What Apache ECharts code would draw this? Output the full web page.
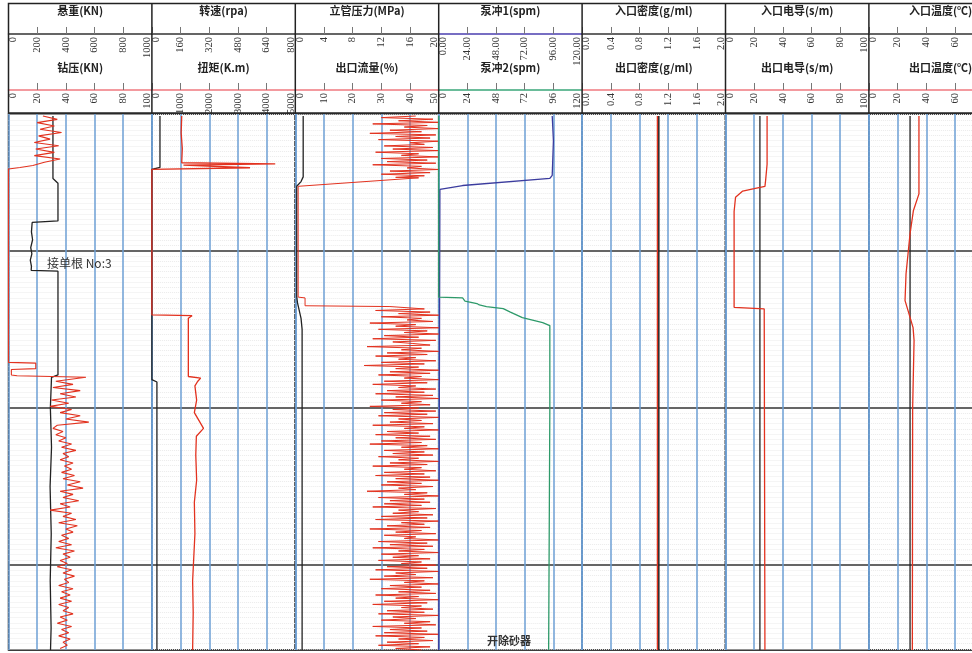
<!DOCTYPE html>
<html>
<head>
<meta charset="utf-8">
<script src="https://cdn.jsdelivr.net/npm/echarts@6/dist/echarts.min.js"></script>
<style>
html,body{margin:0;padding:0;background:#fff;overflow:hidden;}
#log{width:1020px;height:653px;}
</style>
</head>
<body>
<div id="log"></div>
<script>
// track headers (upper curve / lower curve)
var upNames=['悬重(KN)','转速(rpa)','立管压力(MPa)','泵冲1(spm)','入口密度(g/ml)','入口电导(s/m)','入口温度(℃)'];
var upMax=[1000,800,20,120,2,100,100];
var upDec=[0,0,0,2,1,0,0];
var loNames=['钻压(KN)','扭矩(K.m)','出口流量(%)','泵冲2(spm)','出口密度(g/ml)','出口电导(s/m)','出口温度(℃)'];
var loMax=[100,5000,50,120,2,100,100];
var loDec=[0,0,0,0,1,0,0];

// time range of the plot (min), black lines every 10 min
var tMin=1.3, tMax=35.4;

// track 1
var hookload=[[310,1.43],[310,5.4],[345,5.7],[345,8.1],[165,8.2],[160,8.8],[168,9.3],[155,9.8],[163,10.2],[152,10.6],[160,11.0],[158,11.25],[345,11.3],[345,17.9],[300,18.05],[292,20],[300,22.5],[290,25],[298,28],[291,31],[297,34],[293,35.4]];
var wobTop=[24,34,20,32,22,37,21,29,18,35,19,32,18,36,25,17]; // from 1.43, every 0.21
var wobMid=[[8,4.7],[0,4.8],[0,17.1],[19,17.15],[19,17.5],[2,17.55],[2,17.9],[6,17.95],[54,18.05]];
var wobLow=[54,33,45,31,50,36,47,30,42,
 29,44,36,50,40,56,34,31,38,33,
 40,35,44,37,47,38,42,36,45,39,44,
 37,46,38,50,41,52,36,45,38,49,
 36,43,29,44,38,47,35,48,40,45,37,
 42,35,44,33,46,38,43,36,41,34,
 44,38,46,39,42,35,45,37,43,36,44,
 35,42,38,45,36,41,34,44,37,42,35,43,38,41,36]; // from 18.1, every 0.2

// track 2
var rpm=[[45,1.43],[45,4.7],[0,4.82],[0,18.2],[28,18.35],[28,35.4]];
var torque=[[1040,1.43],[1020,2.5],[1060,3.5],[1040,4.4],[4300,4.47],[1100,4.55],[3420,4.72],[0,4.82],[0,14.08],[1400,14.13],[1270,14.3],[1270,18.0],[1700,18.1],[1600,18.3],[1500,18.6],[1560,19.5],[1480,20.3],[1800,21.3],[1550,21.8],[1530,23],[1560,24.6],[1480,26],[1500,28],[1420,31],[1440,33],[1420,35.4]];

// track 3
var spp=[[1.1,1.43],[1.1,5.3],[0.8,5.6],[0.2,5.9],[0.2,12.9],[0.3,13.3],[0.8,14.3],[0.95,15],[0.95,35.4]];
var flowTop=[42,30,48,36,50,27,46,38,50,33,44,26,49,35,47,29,50,40,45,31,
 48,34,50,28,43,37,50,30,46,32,49,27,44,39,50,33,47,30,45,35]; // from 1.43, every 0.1
var flowMid=[[43,5.36],[1,5.9],[1,12.95],[3.4,13.0],[3.4,13.5],[33,13.55]];
var flowLow=[33,45,28,47,36,50,30,44,39,48,
 26,42,35,50,29,46,38,50,31,43,
 27,49,34,41,47,25,44,37,50,32,
 46,28,42,36,49,30,45,24,43,35,
 50,33,47,29,44,38,50,31,46,27,
 42,36,49,32,45,28,48,35,50,30,
 44,37,47,26,43,34,49,31,46,29,
 50,36,44,33,48,27,45,38,50,32,
 43,28,47,35,49,30,44,26,46,37,
 50,31,45,34,48,29,43,36,50,33,
 46,27,44,38,49,31,45,28,47,35,
 50,32,44,30,48,36,42,25,46,38,
 50,29,45,33,47,31,44,27,49,36,
 43,34,48,30,46,28,50,37,45,32,
 47,26,44,35,49,31,42,38,50,29,
 46,33,48,27,45,36,50,30,43,34,
 47,29,44,37,49,32,46,28,50,35,
 42,31,48,26,45,38,50,33,44,30,
 47,36,49,28,43,35,50,31,46,27,
 44,37,48,32,45,29,50,34,42,30,
 47,38,49,27,44,33,46,31,50,28,
 45,36,48,32,43,29,47,35,44]; // from 13.6, every 0.1

// track 4
var pump1=[[95,1.43],[96,3],[95,5.2],[93,5.4],[20,5.85],[1,6.1],[0,6.2],[0,35.4]];
var pump2=[[0,1.43],[0,12.95],[20,13.0],[22,13.2],[32,13.36],[34,13.45],[40,13.55],[54,13.68],[60,13.9],[70,14.25],[87,14.57],[93,14.76],[93,20],[92,35.4]];

// track 5-7
var denIn=[[1.07,1.43],[1.07,35.4]];
var denOut=[[1.05,1.43],[1.05,35.4]];
var condIn=[[24,1.43],[24,35.4]];
var condOut=[[29,1.43],[29,4.5],[28,5.5],[27.5,5.9],[20,6.05],[12,6.2],[7,6.6],[6,7.5],[6,13.6],[27,13.7],[27.5,35.4]];
var tempIn=[[28.7,1.43],[28.7,35.4]];
var tempOut=[[34.9,1.43],[34.9,6.38],[31,7.46],[28.7,8.92],[27.5,10],[25.9,11.46],[25.2,13.17],[27.3,13.81],[30.8,14.89],[31.5,15.71],[30.5,20],[30.3,35.4]];

function seq(start,step,vals){
  return vals.map(function(v,i){return [v,+(start+i*step).toFixed(3)];});
}

var L0=8.5, W=143.4, TOP=113, H=537;
var RED='#e2321f', BLK='#222', BLUE='#6d9fd5';
var upColor=['#333','#333','#333','#4b3fb0','#333','#333','#333'];
var loColor=['#f07a80','#f07a80','#f07a80','#3aa67a','#f07a80','#f07a80','#f07a80'];

// end labels are nudged inside their own track
function tickLabel(max,dec){
  var st={fontSize:10.5,fontFamily:'Liberation Serif',color:'#333'};
  return {inside:true,rotate:-90,margin:3,fontSize:10.5,fontFamily:'Liberation Serif',color:'#333',
    formatter:function(v){
      var s=v.toFixed(dec);
      if(v===0) return '{a|'+s+'}';
      if(v===max) return '{b|'+s+'}';
      return s;
    },
    rich:{a:Object.assign({padding:[9,0,0,0]},st),
          b:Object.assign({padding:[0,0,9,0]},st)}};
}

var grids=[],xAxes=[],yAxes=[];
for(var i=0;i<7;i++){
  grids.push({left:L0+i*W,top:TOP,width:W,height:H,show:true,borderColor:'#222',borderWidth:1.5,backgroundColor:'#fff'});
  xAxes.push({gridIndex:i,type:'value',position:'top',offset:80,min:0,max:upMax[i],interval:upMax[i]/5,
    name:upNames[i],nameLocation:'middle',nameGap:18,
    nameTextStyle:{fontFamily:'Noto Sans CJK SC',fontSize:11,fontWeight:'bold',color:'#222'},
    axisLine:{show:true,onZero:false,lineStyle:{color:upColor[i],width:1.5}},
    axisTick:{show:true,inside:false,length:7,lineStyle:{color:'#777'}},
    axisLabel:tickLabel(upMax[i],upDec[i]),
    splitLine:{show:true,lineStyle:{color:BLUE,width:1.5}}});
  xAxes.push({gridIndex:i,type:'value',position:'top',offset:24,min:0,max:loMax[i],interval:loMax[i]/5,
    name:loNames[i],nameLocation:'middle',nameGap:17,
    nameTextStyle:{fontFamily:'Noto Sans CJK SC',fontSize:11,fontWeight:'bold',color:'#222'},
    axisLine:{show:true,onZero:false,lineStyle:{color:loColor[i],width:1.5}},
    axisTick:{show:true,inside:false,length:7,lineStyle:{color:'#777'}},
    axisLabel:tickLabel(loMax[i],loDec[i]),
    splitLine:{show:false}});
  yAxes.push({gridIndex:i,type:'value',inverse:true,min:tMin,max:tMax,splitNumber:3,
    axisLine:{show:false},axisTick:{show:false},axisLabel:{show:false},
    minorTick:{show:false,splitNumber:30},
    minorSplitLine:{show:true,lineStyle:{color:'#ebebeb',type:'dotted',width:1}},
    splitLine:{show:true,lineStyle:{color:'#333',width:1.5}}});
}

function line(track,lower,data,color,width){
  return {type:'line',xAxisIndex:track*2+(lower?1:0),yAxisIndex:track,data:data,
    symbol:'none',lineStyle:{color:color,width:width||1.3},z:3,silent:true};
}

var series=[
  line(0,false,hookload,BLK),
  line(0,true,seq(1.43,0.21,wobTop).concat(wobMid,seq(18.1,0.2,wobLow)),RED,1.1),
  line(1,false,rpm,BLK),
  line(1,true,torque,RED),
  line(2,false,spp,BLK),
  line(2,true,seq(1.43,0.1,flowTop).concat(flowMid,seq(13.6,0.1,flowLow)),RED,1),
  line(3,false,pump1,'#3b3c9e'),
  line(3,true,pump2,'#2e9a6a'),
  line(4,false,denIn,BLK,1.5),
  line(4,true,denOut,RED),
  line(5,false,condIn,BLK),
  line(5,true,condOut,RED),
  line(6,false,tempIn,BLK),
  line(6,true,tempOut,RED)
];

// header frame
var graphic=[];
graphic.push({type:'rect',shape:{x:L0,y:3.5,width:7*W,height:TOP-3.5},style:{fill:'none',stroke:'#222',lineWidth:1.5},z:10});
for(var k=1;k<7;k++){
  graphic.push({type:'line',shape:{x1:L0+k*W,y1:3.5,x2:L0+k*W,y2:TOP},style:{stroke:'#222',lineWidth:1.5},z:10});
}
graphic.push({type:'text',left:47,top:257,style:{text:'接单根 No:3',font:'12px "Noto Sans CJK SC"',fill:'#333'},z:10});
graphic.push({type:'text',left:487,top:635,style:{text:'开除砂器',font:'bold 11px "Noto Sans CJK SC"',fill:'#333'},z:10});

var chart=echarts.init(document.getElementById('log'));
chart.setOption({animation:false,backgroundColor:'#fff',grid:grids,xAxis:xAxes,yAxis:yAxes,series:series,graphic:graphic});
</script>
</body>
</html>
